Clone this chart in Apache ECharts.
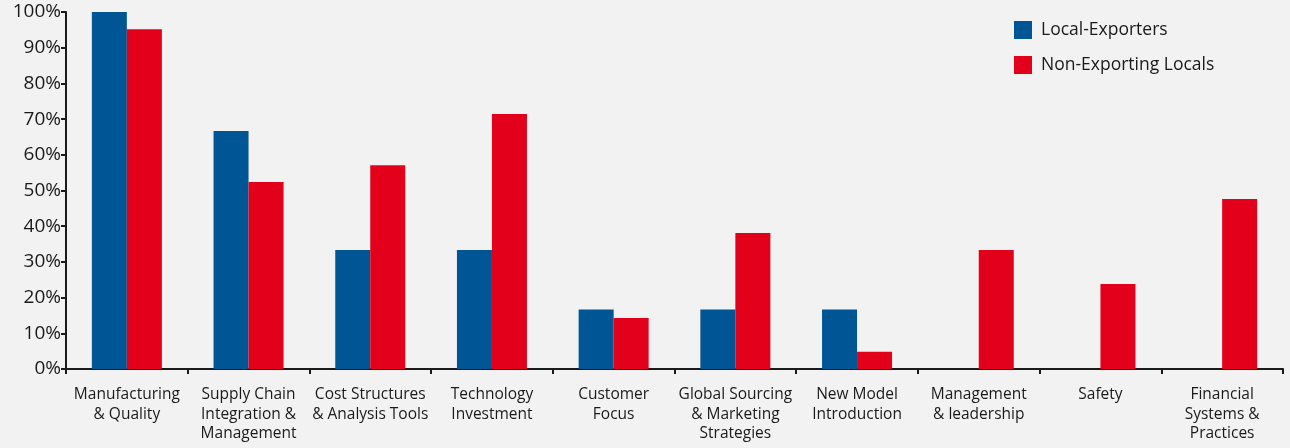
<!DOCTYPE html>
<html>
<head>
<meta charset="utf-8">
<script src="https://cdn.jsdelivr.net/npm/echarts@6/dist/echarts.min.js"></script>
<style>
html,body{margin:0;padding:0;background:#f2f2f2;}
#chart{width:1290px;height:448px;}
</style>
</head>
<body>
<div id="chart"></div>
<script>
const categories = [
  'Manufacturing\n& Quality',
  'Supply Chain\nIntegration &\nManagement',
  'Cost Structures\n& Analysis Tools',
  'Technology\nInvestment',
  'Customer\nFocus',
  'Global Sourcing\n& Marketing\nStrategies',
  'New Model\nIntroduction',
  'Management\n& leadership',
  'Safety',
  'Financial\nSystems &\nPractices'
];
const localExporters = [100, 66.7, 33.3, 33.3, 16.7, 16.7, 16.7, 0, 0, 0];
const nonExportingLocals = [95.2, 52.4, 57.1, 71.4, 14.3, 38.1, 4.8, 33.3, 23.8, 47.6];
const seriesNames = ['Local-Exporters', 'Non-Exporting Locals'];

const FONT = '"Open Sans", "Noto Sans", sans-serif';
const chart = echarts.init(document.getElementById('chart'));
chart.setOption({
  backgroundColor: '#f2f2f2',
  animation: false,
  grid: { left: 66, right: 7, top: 12, bottom: 79 },
  legend: {
    orient: 'vertical',
    left: 1014, top: 21, padding: 0,
    itemWidth: 18, itemHeight: 18, itemGap: 17,
    icon: 'rect',
    textStyle: { fontFamily: FONT, fontSize: 17.5, color: '#1a1a1a', padding: [0, 0, 0, 4] },
    data: seriesNames
  },
  xAxis: {
    type: 'category',
    data: categories,
    axisLine: { lineStyle: { color: '#1a1a1a', width: 2 } },
    axisTick: { show: true, length: 5, lineStyle: { color: '#1a1a1a', width: 2 } },
    axisLabel: { interval: 0, fontFamily: FONT, fontSize: 15.5, color: '#1a1a1a', lineHeight: 19.5, margin: 16 }
  },
  yAxis: {
    type: 'value',
    min: 0, max: 100, interval: 10,
    axisLine: { show: true, lineStyle: { color: '#1a1a1a', width: 2 } },
    axisTick: { show: true, length: 5, lineStyle: { color: '#1a1a1a', width: 2 } },
    splitLine: { show: false },
    axisLabel: { formatter: '{value}%', fontFamily: FONT, fontSize: 19, color: '#1a1a1a', margin: 5 }
  },
  series: [
    { name: seriesNames[0], type: 'bar', data: localExporters, barWidth: 35, barGap: '0%',
      itemStyle: { color: '#005594' } },
    { name: seriesNames[1], type: 'bar', data: nonExportingLocals, barWidth: 35, barGap: '0%',
      itemStyle: { color: '#e2001a' } }
  ]
});
</script>
</body>
</html>
